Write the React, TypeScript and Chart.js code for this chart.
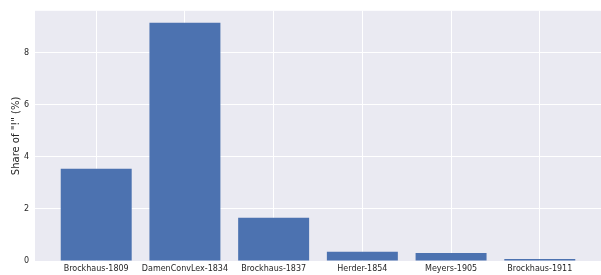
import React, { useEffect, useRef } from "react";
import { Chart, registerables } from "chart.js";

Chart.register(...registerables);

const categories = ["Brockhaus-1809", "DamenConvLex-1834", "Brockhaus-1837", "Herder-1854", "Meyers-1905", "Brockhaus-1911"];
const shares = [3.54, 9.15, 1.66, 0.36, 0.31, 0.08];
const yTicks = [0, 2, 4, 6, 8];

const bgPlugin = {
  id: "bgPlugin",
  beforeDraw(chart: any) {
    const { ctx, chartArea } = chart;
    ctx.save();
    ctx.fillStyle = "#EAEAF2";
    ctx.fillRect(chartArea.left, chartArea.top, chartArea.right - chartArea.left, chartArea.bottom - chartArea.top);
    ctx.restore();
  },
};

export default function App() {
  const ref = useRef<HTMLCanvasElement>(null);
  useEffect(() => {
    document.body.style.margin = "0";
    const chart = new Chart(ref.current!, {
      type: "bar",
      data: {
        datasets: [
          {
            data: shares.map((v, i) => ({ x: i, y: v })),
            backgroundColor: "#4C72B0",
            borderWidth: 0,
            categoryPercentage: 1,
            barPercentage: 0.8,
          },
        ],
      },
      options: {
        animation: false,
        responsive: false,
        maintainAspectRatio: false,
        layout: { padding: { top: 10, right: 0, left: 0, bottom: 0 } },
        plugins: { legend: { display: false }, tooltip: { enabled: false } },
        scales: {
          x: {
            type: "linear",
            offset: false,
            min: -0.69,
            max: 5.69,
            afterBuildTicks: (scale: any) => {
              scale.ticks = categories.map((_, i) => ({ value: i }));
            },
            afterFit: (scale: any) => {
              scale.height = 14;
            },
            grid: { color: "#FFFFFF", lineWidth: 1, drawTicks: false, offset: false },
            border: { display: false },
            ticks: {
              padding: 3,
              autoSkip: false,
              maxRotation: 0,
              color: "#262626",
              font: { family: "DejaVu Sans", size: 8 },
              callback: (v: any) => categories[v as number] ?? "",
            },
          },
          y: {
            min: 0,
            max: 9.61,
            afterBuildTicks: (scale: any) => {
              scale.ticks = yTicks.map((v) => ({ value: v }));
            },
            afterFit: (scale: any) => {
              scale.width = 35;
            },
            grid: { color: "#FFFFFF", lineWidth: 1, drawTicks: false },
            border: { display: false },
            title: {
              display: true,
              text: 'Share of "!" (%)',
              color: "#262626",
              font: { family: "DejaVu Sans", size: 10 },
              padding: { top: 10, bottom: 0 },
            },
            ticks: {
              padding: 6,
              color: "#262626",
              font: { family: "DejaVu Sans", size: 8 },
            },
          },
        },
      },
      plugins: [bgPlugin],
    });
    return () => chart.destroy();
  }, []);
  return (
    <div style={{ position: "absolute", left: 0, top: 0, width: 601, height: 275 }}>
      <canvas ref={ref} width={601} height={275} style={{ width: 601, height: 275 }} />
    </div>
  );
}
